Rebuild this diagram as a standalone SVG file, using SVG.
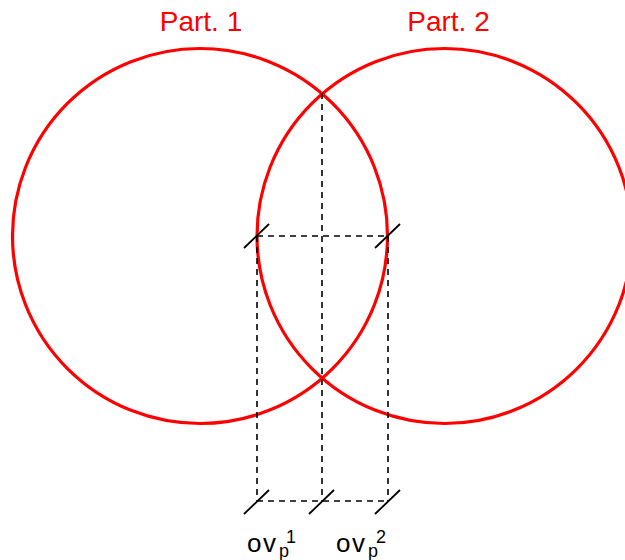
<svg xmlns="http://www.w3.org/2000/svg" width="625" height="560" viewBox="0 0 625 560">
<style>
.part{fill:none;stroke:#ff0000;stroke-width:3.2}
.dash{fill:none;stroke:#000;stroke-width:1.6;stroke-dasharray:6,5}
.tick{stroke:#000;stroke-width:1.8}
.lbl{font-family:"Liberation Sans",Arial,sans-serif;fill:#ff0000;font-size:28px;text-anchor:middle}
.ov{font-family:"Liberation Sans",Arial,sans-serif;fill:#000;font-size:26px}
.big{letter-spacing:1.5px}
.sm{font-size:18px;letter-spacing:0}
</style>
<rect width="625" height="560" fill="#fff"/>
<g id="part1">
<circle class="part" cx="200" cy="236" r="187.5"/>
<text class="lbl" x="201" y="31">Part. 1</text>
</g>
<g id="part2">
<circle class="part" cx="444.5" cy="236" r="187.5"/>
<text class="lbl" x="448.5" y="31">Part. 2</text>
</g>
<g id="connectors">
<path class="dash" d="M257,236 H388"/>
<path class="dash" d="M257,501 H388"/>
<path class="dash" d="M257,236 V501"/>
<path class="dash" d="M388,236 V501"/>
<path class="dash" d="M322,93 V501"/>
<path class="tick" d="M244,248 L269,224"/>
<path class="tick" d="M375,248 L400,224"/>
<path class="tick" d="M244,514 L269,490"/>
<path class="tick" d="M309,514 L334,490"/>
<path class="tick" d="M375,514 L400,490"/>
</g>
<g id="ov1">
<text class="ov"><tspan class="big" x="247" y="552">ov</tspan><tspan class="sm" x="279" y="557">p</tspan><tspan class="sm" x="286" y="543">1</tspan></text>
</g>
<g id="ov2">
<text class="ov"><tspan class="big" x="336" y="552">ov</tspan><tspan class="sm" x="368" y="557">p</tspan><tspan class="sm" x="376" y="543">2</tspan></text>
</g>
</svg>
